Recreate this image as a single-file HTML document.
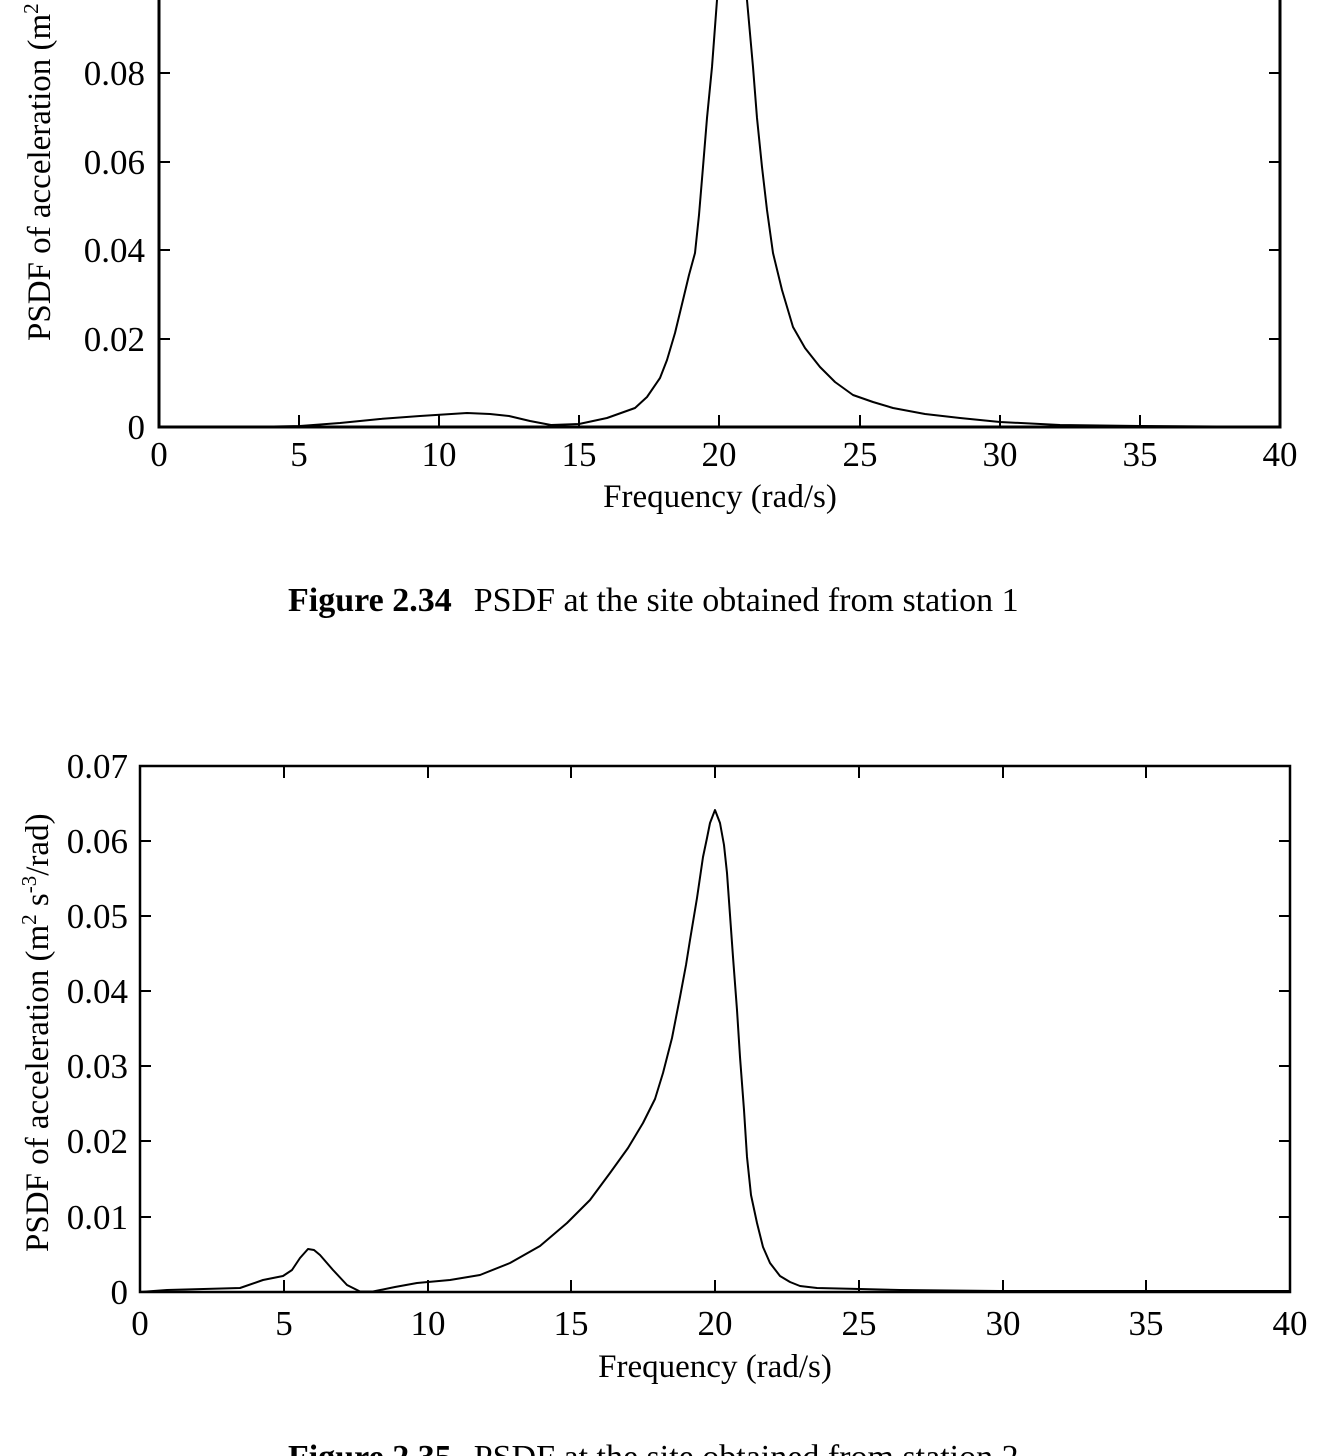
<!DOCTYPE html>
<html><head><meta charset="utf-8"><style>
html,body{margin:0;padding:0;background:#fff;}
svg{display:block;}
text{font-family:"Liberation Serif",serif;fill:#000;}
</style></head><body>
<svg width="1320" height="1456" viewBox="0 0 1320 1456" xmlns="http://www.w3.org/2000/svg">
<!-- Top chart -->
<g stroke="#000" fill="none">
<polyline stroke-width="3" points="159,-5 159,427 1280,427 1280,-5"/>
<g stroke-width="2">
<line x1="159" y1="339" x2="170" y2="339"/><line x1="159" y1="250" x2="170" y2="250"/><line x1="159" y1="162" x2="170" y2="162"/><line x1="159" y1="73" x2="170" y2="73"/>
<line x1="1280" y1="339" x2="1269" y2="339"/><line x1="1280" y1="250" x2="1269" y2="250"/><line x1="1280" y1="162" x2="1269" y2="162"/><line x1="1280" y1="73" x2="1269" y2="73"/>
<line x1="299" y1="427" x2="299" y2="415"/><line x1="439" y1="427" x2="439" y2="415"/><line x1="579" y1="427" x2="579" y2="415"/><line x1="719" y1="427" x2="719" y2="415"/><line x1="860" y1="427" x2="860" y2="415"/><line x1="1000" y1="427" x2="1000" y2="415"/><line x1="1140" y1="427" x2="1140" y2="415"/>
</g>
<polyline stroke-width="2" stroke-linejoin="round" points="159,427 250,427 300,426 340,423 380,419 420,416 467,413 490,414 509,416 530,421 551,425 579,424 607,418 635,408 647,397 660,378 667,360 675,333 683,300 689,275 695,253 699,215 703,167 707,118 712,67 717,0 720,-10 745,-10 747,0 753,67 757,118 762,167 767,210 773,253 782,290 793,327 805,348 820,367 835,382 853,395 873,402 893,408 925,414 960,418 1000,422 1060,425 1140,426 1280,427"/>
</g>
<g font-size="35" text-anchor="end">
<text x="145" y="439">0</text><text x="145" y="351">0.02</text><text x="145" y="262">0.04</text><text x="145" y="174">0.06</text><text x="145" y="85">0.08</text>
</g>
<g font-size="35" text-anchor="middle">
<text x="159" y="466">0</text><text x="299" y="466">5</text><text x="439" y="466">10</text><text x="579" y="466">15</text><text x="719" y="466">20</text><text x="860" y="466">25</text><text x="1000" y="466">30</text><text x="1140" y="466">35</text><text x="1280" y="466">40</text>
</g>
<text x="720" y="507" font-size="33" text-anchor="middle">Frequency (rad/s)</text>
<text transform="translate(50,341) rotate(-90)" font-size="33">PSDF of acceleration (m<tspan font-size="21" dy="-12">2</tspan><tspan dy="12"> s</tspan><tspan font-size="21" dy="-12">-3</tspan><tspan dy="12">/rad)</tspan></text>
<text x="288" y="611" font-size="34"><tspan font-weight="bold">Figure 2.34</tspan><tspan dx="22">PSDF at the site obtained from station 1</tspan></text>

<!-- Bottom chart -->
<g stroke="#000" fill="none">
<rect x="140" y="766" width="1150" height="526" stroke-width="2.5"/>
<g stroke-width="2">
<line x1="140" y1="1217" x2="151" y2="1217"/><line x1="140" y1="1141" x2="151" y2="1141"/><line x1="140" y1="1066" x2="151" y2="1066"/><line x1="140" y1="991" x2="151" y2="991"/><line x1="140" y1="916" x2="151" y2="916"/><line x1="140" y1="841" x2="151" y2="841"/>
<line x1="1290" y1="1217" x2="1279" y2="1217"/><line x1="1290" y1="1141" x2="1279" y2="1141"/><line x1="1290" y1="1066" x2="1279" y2="1066"/><line x1="1290" y1="991" x2="1279" y2="991"/><line x1="1290" y1="916" x2="1279" y2="916"/><line x1="1290" y1="841" x2="1279" y2="841"/>
<line x1="284" y1="1292" x2="284" y2="1280"/><line x1="428" y1="1292" x2="428" y2="1280"/><line x1="571" y1="1292" x2="571" y2="1280"/><line x1="715" y1="1292" x2="715" y2="1280"/><line x1="859" y1="1292" x2="859" y2="1280"/><line x1="1003" y1="1292" x2="1003" y2="1280"/><line x1="1146" y1="1292" x2="1146" y2="1280"/>
<line x1="284" y1="766" x2="284" y2="778"/><line x1="428" y1="766" x2="428" y2="778"/><line x1="571" y1="766" x2="571" y2="778"/><line x1="715" y1="766" x2="715" y2="778"/><line x1="859" y1="766" x2="859" y2="778"/><line x1="1003" y1="766" x2="1003" y2="778"/><line x1="1146" y1="766" x2="1146" y2="778"/>
</g>
<polyline stroke-width="2" stroke-linejoin="round" points="140,1292 167,1290 240,1288 263,1280 283,1276 292,1270 300,1258 308,1249 314,1250 320,1255 333,1270 347,1285 360,1291.5 373,1291.5 395,1287 417,1283 450,1280 480,1275 510,1263 540,1246 567,1223 590,1200 610,1173 628,1148 643,1123 655,1099 663,1073 672,1038 680,997 686,965 690,940 697,898 703,857 707,838 710,823 715,810 720,823 724,845 727,873 730,915 733,957 737,1010 740,1057 744,1110 747,1157 751,1195 757,1223 763,1247 770,1263 780,1276 790,1282 800,1286 817,1288 860,1289 900,1290 1000,1291 1290,1291"/>
</g>
<g font-size="35" text-anchor="end">
<text x="128" y="1304">0</text><text x="128" y="1229">0.01</text><text x="128" y="1153">0.02</text><text x="128" y="1078">0.03</text><text x="128" y="1003">0.04</text><text x="128" y="928">0.05</text><text x="128" y="853">0.06</text><text x="128" y="778">0.07</text>
</g>
<g font-size="35" text-anchor="middle">
<text x="140" y="1335">0</text><text x="284" y="1335">5</text><text x="428" y="1335">10</text><text x="571" y="1335">15</text><text x="715" y="1335">20</text><text x="859" y="1335">25</text><text x="1003" y="1335">30</text><text x="1146" y="1335">35</text><text x="1290" y="1335">40</text>
</g>
<text x="715" y="1377" font-size="33" text-anchor="middle">Frequency (rad/s)</text>
<text transform="translate(48,1252) rotate(-90)" font-size="33">PSDF of acceleration (m<tspan font-size="21" dy="-12">2</tspan><tspan dy="12"> s</tspan><tspan font-size="21" dy="-12">-3</tspan><tspan dy="12">/rad)</tspan></text>
<text x="288" y="1468" font-size="34"><tspan font-weight="bold">Figure 2.35</tspan><tspan dx="22">PSDF at the site obtained from station 2</tspan></text>
</svg>
</body></html>
